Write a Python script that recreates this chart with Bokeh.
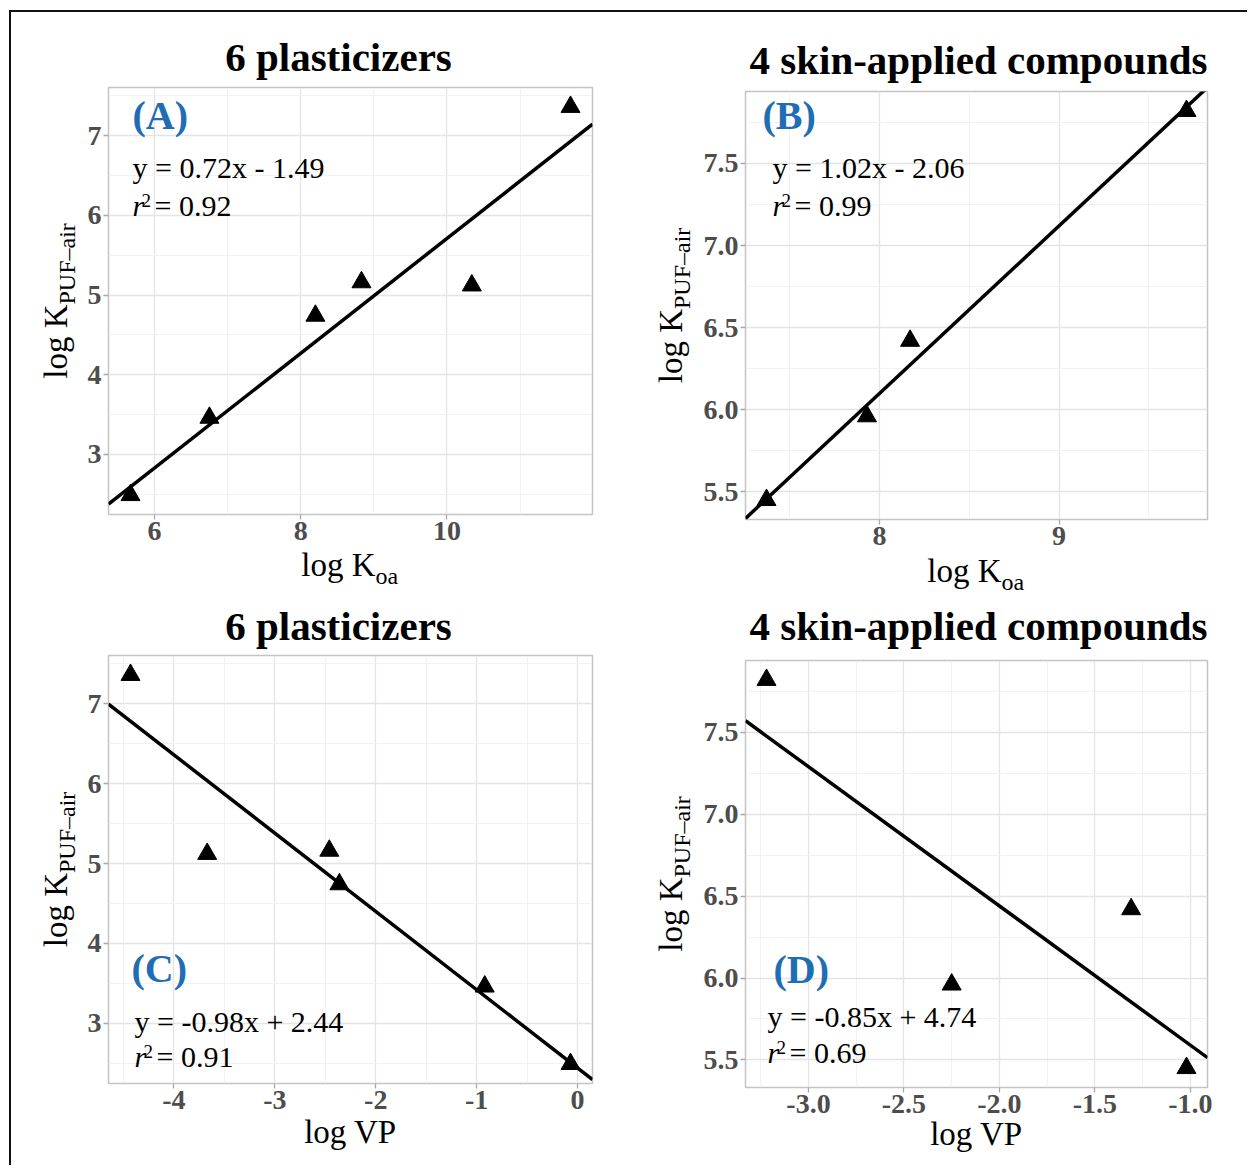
from bokeh.plotting import figure
from bokeh.models import Label, FixedTicker, NumeralTickFormatter, Range1d, GridBox
from bokeh.layouts import column
from bokeh.embed import file_html
from bokeh.resources import INLINE

# ---------------- data ----------------
# six plasticizers
plast_log_koa = [5.67, 6.75, 8.20, 8.83, 10.34, 11.69]
plast_log_vp = [-0.07, -0.92, -2.36, -2.46, -3.67, -4.43]
plast_log_kpuf = [2.49, 3.46, 4.74, 5.16, 5.12, 7.36]

# four skin-applied compounds
skin_log_koa = [7.37, 7.93, 8.17, 9.71]
skin_log_vp = [-1.02, -2.25, -1.31, -3.22]
skin_log_kpuf = [5.45, 5.96, 6.42, 7.82]

# linear fits: slope, intercept, r2
fit_a = (0.72, -1.49, 0.92)
fit_b = (1.02, -2.06, 0.99)
fit_c = (-0.98, 2.44, 0.91)
fit_d = (-0.85, 4.74, 0.69)

# tick positions
ticks_a_x = [6, 8, 10]
ticks_a_y = [3, 4, 5, 6, 7]
ticks_b_x = [8, 9]
ticks_b_y = [5.5, 6.0, 6.5, 7.0, 7.5]
ticks_c_x = [-4, -3, -2, -1, 0]
ticks_c_y = [3, 4, 5, 6, 7]
ticks_d_x = [-3.0, -2.5, -2.0, -1.5, -1.0]
ticks_d_y = [5.5, 6.0, 6.5, 7.0, 7.5]

title_plast = "6 plasticizers"
title_skin = "4 skin-applied compounds"

# ---------------- styling ----------------
SERIF = "Liberation Serif"
BLUE = "#1f6db5"
TICK_GREY = "#4d4d4d"
# distance from the label anchor to the glyph baseline, as a fraction of font size
BASE_SHIFT = 0.34


def minor_of(ticks):
    step = ticks[1] - ticks[0]
    return [ticks[0] - step / 2] + [t + step / 2 for t in ticks]


def expanded(vals, frac=0.05):
    lo, hi = min(vals), max(vals)
    pad = (hi - lo) * frac
    return lo - pad, hi + pad


def lab(p, x, y, text, size, units="screen", **kw):
    opts = dict(x=x, y=y, x_units=units, y_units=units, text=text,
                text_font=SERIF, text_font_size=f"{size}px", text_color="black",
                text_baseline="alphabetic", text_align="left")
    opts.update(kw)
    p.add_layout(Label(**opts))


def fit_text(m, b):
    sign = "-" if b < 0 else "+"
    return f"y = {m:.2f}x {sign} {abs(b):.2f}"


def panel(xv, yv, fit, tag, xticks, yticks, xfmt, yfmt, g):
    fw, fh = g["fw"], g["fh"]
    xr = expanded(xv)
    yr = expanded(yv)
    p = figure(frame_width=fw, frame_height=fh,
               min_border_left=g["bl"], min_border_right=g["br"],
               min_border_top=g["bt"], min_border_bottom=g["bb"],
               x_range=Range1d(*xr), y_range=Range1d(*yr),
               output_backend="svg", toolbar_location=None, title=None,
               frame_align=False,
               background_fill_color="white", border_fill_color="white",
               outline_line_color="#c4c4c4", outline_line_width=1.5)

    p.xaxis.ticker = FixedTicker(ticks=xticks, minor_ticks=minor_of(xticks))
    p.yaxis.ticker = FixedTicker(ticks=yticks, minor_ticks=minor_of(yticks))
    p.xaxis.formatter = NumeralTickFormatter(format=xfmt)
    p.yaxis.formatter = NumeralTickFormatter(format=yfmt)
    for ax in (p.xaxis, p.yaxis):
        ax.axis_line_color = None
        ax.major_tick_line_color = "#a8a8a8"
        ax.major_tick_line_width = 1.3
        ax.major_tick_out = 5
        ax.major_tick_in = 0
        ax.minor_tick_line_color = None
        ax.major_label_text_font = SERIF
        ax.major_label_text_font_style = "bold"
        ax.major_label_text_font_size = "28px"
        ax.major_label_text_color = TICK_GREY
        ax.major_label_standoff = 2
    for gr in (p.xgrid, p.ygrid):
        gr.grid_line_color = "#e4e4e4"
        gr.grid_line_width = 1.3
        gr.minor_grid_line_color = "#f0f0f0"
        gr.minor_grid_line_width = 0.9

    m, b, r2 = fit
    lx = [xr[0], xr[1]]
    ly = [m * x + b for x in lx]
    p.line(lx, ly, line_color="black", line_width=3.5)
    p.scatter(xv, yv, marker="triangle", size=19, color="black")

    # panel tag and fit statistics (inside the frame); y measured upwards
    def put(dx, dy, text, size, **kw):
        lab(p, dx, dy + BASE_SHIFT * size, text, size, **kw)

    put(g["tag"][0], g["tag"][1], tag, 40, text_font_style="bold", text_color=BLUE)
    put(g["eq"][0], g["eq"][1], fit_text(m, b), 30)
    rx, ry = g["r2"]
    put(rx, ry, "r", 30, text_font_style="italic")
    put(rx + 9, ry + 9, "2", 19)
    put(rx + 22, ry, f"= {r2:.2f}", 30)
    return p


def outer_texts(ov, g, cell, title, xlab, xsub):
    """Panel title and axis titles, drawn on the transparent top layer."""
    fx = cell[0] + g["bl"]
    fb = cell[1] + g["bt"] + g["fh"]
    fw, fh = g["fw"], g["fh"]

    def put(dx, dy, text, size, vertical=False, **kw):
        if vertical:
            lab(ov, fx + dx - BASE_SHIFT * size, fb - dy, text, size, units="data",
                angle=90, angle_units="deg", **kw)
        else:
            lab(ov, fx + dx, fb - dy - BASE_SHIFT * size, text, size, units="data", **kw)

    put(g["tdx"], g["tdy"], title, 41, text_font_style="bold", text_align="center")

    if xsub:
        jx = fw / 2 - (74 + 24) / 2 + 74
        put(jx, g["xdy"], xlab, 33, text_align="right")
        put(jx, g["xdy"] - 8, xsub, 24)
    else:
        put(fw / 2, g["xdy"], xlab, 33, text_align="center")

    jy = fh / 2 - (74 + 81) / 2 + 74
    put(g["ydx"], jy, "log K", 33, vertical=True, text_align="right")
    put(g["ydx"] + 8, jy, "PUF\u2013air", 24, vertical=True)


geom_a = dict(fw=484, fh=427, bl=97, br=33, bt=75, bb=76, tdx=230, tdy=444,
              tag=(24, 385), eq=(24, 337), r2=(24, 299), xdy=-62, ydx=-41)
geom_b = dict(fw=462, fh=428, bl=120, br=40, bt=79, bb=71, tdx=233, tdy=446,
              tag=(17, 390), eq=(27, 342), r2=(27, 304), xdy=-63, ydx=-63)
geom_c = dict(fw=484, fh=428, bl=97, br=33, bt=65, bb=82, tdx=230, tdy=444,
              tag=(23, 101), eq=(26, 52), r2=(26, 17), xdy=-60, ydx=-41)
geom_d = dict(fw=462, fh=427, bl=120, br=40, bt=70, bb=78, tdx=233, tdy=448,
              tag=(28, 104), eq=(22, 61), r2=(22, 25), xdy=-58, ydx=-63)

pa = panel(plast_log_koa, plast_log_kpuf, fit_a, "(A)", ticks_a_x, ticks_a_y, "0", "0", geom_a)
pb = panel(skin_log_koa, skin_log_kpuf, fit_b, "(B)", ticks_b_x, ticks_b_y, "0", "0.0", geom_b)
pc = panel(plast_log_vp, plast_log_kpuf, fit_c, "(C)", ticks_c_x, ticks_c_y, "0", "0", geom_c)
pd = panel(skin_log_vp, skin_log_kpuf, fit_d, "(D)", ticks_d_x, ticks_d_y, "0.0", "0.0", geom_d)

# cell origins of the 2 x 2 grid
col_w = geom_a["bl"] + geom_a["fw"] + geom_a["br"]
row_h = geom_a["bt"] + geom_a["fh"] + geom_a["bb"]
W = col_w + geom_b["bl"] + geom_b["fw"] + geom_b["br"]
H = row_h + geom_c["bt"] + geom_c["fh"] + geom_c["bb"]

# transparent layer spanning the whole grid, in pixel coordinates (y downwards)
ov = figure(frame_width=W, frame_height=H, min_border=0,
            x_range=Range1d(0, W), y_range=Range1d(H, 0),
            x_axis_type=None, y_axis_type=None, title=None,
            output_backend="svg", toolbar_location=None, frame_align=False,
            background_fill_alpha=0, border_fill_alpha=0, outline_line_color=None)
ov.grid.visible = False

outer_texts(ov, geom_a, (0, 0), title_plast, "log K", "oa")
outer_texts(ov, geom_b, (col_w, 0), title_skin, "log K", "oa")
outer_texts(ov, geom_c, (0, row_h), title_plast, "log VP", None)
outer_texts(ov, geom_d, (col_w, row_h), title_skin, "log VP", None)

grid = GridBox(children=[(pa, 0, 0), (pb, 0, 1), (pc, 1, 0), (pd, 1, 1), (ov, 0, 0, 2, 2)])

layout = column(grid,
                styles={"border-left": "2px solid #111", "border-top": "2px solid #111"},
                margin=(10, 0, 0, 9))

open("out.html", "w").write(file_html(layout, INLINE))
